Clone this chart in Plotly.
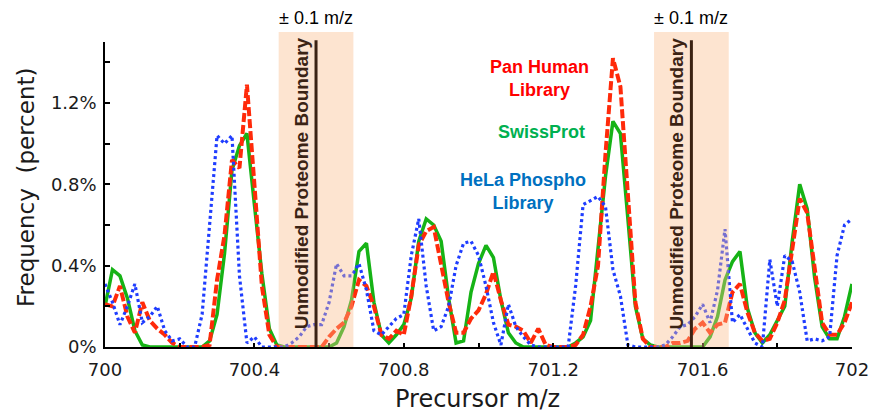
import plotly.graph_objects as go

# ---------------- data ----------------
mz = [700.00, 700.02, 700.04, 700.06, 700.08, 700.10, 700.12, 700.14, 700.16, 700.18,
      700.20, 700.22, 700.24, 700.26, 700.28, 700.30, 700.32, 700.34, 700.36, 700.38,
      700.40, 700.42, 700.44, 700.46, 700.48, 700.50, 700.52, 700.54, 700.56, 700.58,
      700.60, 700.62, 700.64, 700.66, 700.68, 700.70, 700.72, 700.74, 700.76, 700.78,
      700.80, 700.82, 700.84, 700.86, 700.88, 700.90, 700.92, 700.94, 700.96, 700.98,
      701.00, 701.02, 701.04, 701.06, 701.08, 701.10, 701.12, 701.14, 701.16, 701.18,
      701.20, 701.22, 701.24, 701.26, 701.28, 701.30, 701.32, 701.34, 701.36, 701.38,
      701.40, 701.42, 701.44, 701.46, 701.48, 701.50, 701.52, 701.54, 701.56, 701.58,
      701.60, 701.62, 701.64, 701.66, 701.68, 701.70, 701.72, 701.74, 701.76, 701.78,
      701.80, 701.82, 701.84, 701.86, 701.88, 701.90, 701.92, 701.94, 701.96, 701.98,
      702.00]

swissprot = [0.20, 0.38, 0.35, 0.24, 0.08, 0.01, 0.00, 0.00, 0.00, 0.00,
             0.00, 0.00, 0.00, 0.00, 0.03, 0.16, 0.46, 0.87, 0.99, 1.05,
             0.70, 0.36, 0.09, 0.01, 0.00, 0.00, 0.00, 0.00, 0.00, 0.00,
             0.00, 0.02, 0.10, 0.23, 0.47, 0.51, 0.22, 0.06, 0.02, 0.06,
             0.11, 0.24, 0.52, 0.63, 0.60, 0.52, 0.24, 0.02, 0.03, 0.27,
             0.41, 0.50, 0.44, 0.23, 0.07, 0.02, 0.00, 0.00, 0.00, 0.00,
             0.00, 0.00, 0.00, 0.02, 0.05, 0.13, 0.47, 0.84, 1.11, 1.05,
             0.63, 0.20, 0.04, 0.01, 0.00, 0.00, 0.00, 0.00, 0.00, 0.00,
             0.00, 0.05, 0.15, 0.33, 0.42, 0.47, 0.19, 0.07, 0.02, 0.06,
             0.13, 0.20, 0.52, 0.80, 0.68, 0.34, 0.10, 0.04, 0.04, 0.15,
             0.31]

pan_human = [0.21, 0.20, 0.30, 0.15, 0.07, 0.22, 0.13, 0.09, 0.06, 0.02,
             0.00, 0.00, 0.00, 0.00, 0.01, 0.33, 0.55, 0.92, 0.88, 1.29,
             0.80, 0.30, 0.06, 0.00, 0.00, 0.00, 0.00, 0.00, 0.00, 0.00,
             0.05, 0.09, 0.12, 0.20, 0.33, 0.30, 0.20, 0.06, 0.04, 0.08,
             0.06, 0.25, 0.50, 0.57, 0.59, 0.40, 0.22, 0.07, 0.07, 0.14,
             0.18, 0.26, 0.37, 0.23, 0.11, 0.10, 0.08, 0.02, 0.09, 0.01,
             0.00, 0.00, 0.00, 0.01, 0.06, 0.20, 0.40, 0.95, 1.42, 1.28,
             0.72, 0.22, 0.04, 0.00, 0.00, 0.00, 0.02, 0.02, 0.03, 0.09,
             0.12, 0.07, 0.11, 0.12, 0.27, 0.31, 0.17, 0.07, 0.03, 0.04,
             0.12, 0.23, 0.48, 0.73, 0.66, 0.38, 0.12, 0.06, 0.06, 0.12,
             0.22]

hela_phospho = [0.31, 0.22, 0.11, 0.20, 0.31, 0.12, 0.15, 0.20, 0.08, 0.03,
                0.04, 0.00, 0.00, 0.16, 0.60, 1.04, 1.00, 1.04, 0.35, 0.02,
                0.05, 0.00, 0.00, 0.00, 0.00, 0.02, 0.05, 0.10, 0.11, 0.11,
                0.22, 0.41, 0.35, 0.35, 0.41, 0.28, 0.08, 0.06, 0.10, 0.14,
                0.16, 0.45, 0.63, 0.30, 0.08, 0.10, 0.20, 0.40, 0.51, 0.52,
                0.45, 0.30, 0.12, 0.01, 0.21, 0.10, 0.05, 0.01, 0.00, 0.00,
                0.00, 0.00, 0.00, 0.30, 0.70, 0.72, 0.74, 0.69, 0.38, 0.25,
                0.01, 0.00, 0.00, 0.00, 0.00, 0.01, 0.05, 0.10, 0.11, 0.15,
                0.21, 0.12, 0.28, 0.58, 0.12, 0.16, 0.09, 0.02, 0.00, 0.43,
                0.20, 0.45, 0.42, 0.27, 0.03, 0.04, 0.03, 0.05, 0.45, 0.60,
                0.63]

boundaries = [700.565, 701.570]
window = 0.1
window_label = "± 0.1 m/z"
boundary_label = "Unmodified Proteome Boundary"
series_labels = ["Pan Human<br>Library", "SwissProt", "HeLa Phospho<br>Library"]

# ---------------- figure ----------------
AX_FONT = "DejaVu Sans, Verdana, sans-serif"
TXT_FONT = "Liberation Sans, Arial, sans-serif"

fig = go.Figure()
fig.add_trace(go.Scatter(x=mz, y=swissprot, mode="lines", name="SwissProt",
                         line=dict(color="#16b316", width=3.5)))
fig.add_trace(go.Scatter(x=mz, y=pan_human, mode="lines", name="Pan Human Library",
                         line=dict(color="#ff2a0a", width=4, dash="9px,3px")))
fig.add_trace(go.Scatter(x=mz, y=hela_phospho, mode="lines", name="HeLa Phospho Library",
                         line=dict(color="#1f3dff", width=3.2, dash="3px,3px")))

shapes = []
annotations = []
for b in boundaries:
    shapes.append(dict(type="rect", xref="x", yref="paper", x0=b - window, x1=b + window,
                       y0=0, y1=1.033, fillcolor="rgb(250,187,137)", opacity=0.4,
                       line=dict(width=0), layer="above"))
    shapes.append(dict(type="line", xref="x", yref="paper", x0=b, x1=b, y0=0, y1=1.006,
                       line=dict(color="#3b2213", width=3), layer="above"))
    annotations.append(dict(x=b, y=1.078, xref="x", yref="paper", text=window_label,
                            showarrow=False, xanchor="center", yanchor="middle",
                            font=dict(family=TXT_FONT, size=18, color="black")))
    annotations.append(dict(x=b, y=0.537, xref="x", yref="paper", xshift=-15,
                            text="<b>" + boundary_label + "</b>", textangle=-90,
                            showarrow=False, xanchor="center", yanchor="middle",
                            font=dict(family=TXT_FONT, size=19, color="#3b2314")))

label_pos = [(701.162, 0.881, "#ff0000"), (701.170, 0.706, "#00b050"), (701.120, 0.511, "#0070c0")]
for (lx, ly, col), txt in zip(label_pos, series_labels):
    annotations.append(dict(x=lx, y=ly, xref="x", yref="paper", text="<b>" + txt + "</b>",
                            showarrow=False, xanchor="center", yanchor="middle", align="center",
                            font=dict(family=TXT_FONT, size=18, color=col)))

# axis titles
annotations.append(dict(x=0.498, y=-0.172, xref="paper", yref="paper", text="Precursor m/z",
                        showarrow=False, xanchor="center", yanchor="middle",
                        font=dict(family=AX_FONT, size=24, color="#1a1a1a")))
annotations.append(dict(x=-0.106, y=0.524, xref="paper", yref="paper",
                        text="Frequency\u00a0 (percent)", textangle=-90,
                        showarrow=False, xanchor="center", yanchor="middle",
                        font=dict(family=AX_FONT, size=23, color="#1a1a1a")))

fig.update_layout(
    width=871, height=415,
    margin=dict(l=105, r=19, t=42, b=68, autoexpand=False),
    paper_bgcolor="white", plot_bgcolor="white",
    showlegend=False,
    shapes=shapes, annotations=annotations,
    xaxis=dict(range=[700, 702], showgrid=False, zeroline=False, automargin=False,
               showline=True, linecolor="black", linewidth=1.5,
               tick0=700, dtick=0.4, ticks="inside", ticklen=4, tickwidth=1.5, tickcolor="black",
               ticklabelstandoff=6,
               minor=dict(tick0=700, dtick=0.2, ticks="inside", ticklen=4, tickwidth=1.5,
                          tickcolor="black", showgrid=False),
               tickfont=dict(family=AX_FONT, size=18, color="#1a1a1a")),
    xaxis2=dict(range=[700, 702], overlaying="x", anchor="y", side="bottom", automargin=False,
                showgrid=False, zeroline=False, showline=False, showticklabels=False,
                tick0=700, dtick=0.2, ticks="outside", ticklen=2, tickwidth=1.5,
                tickcolor="black"),
    yaxis=dict(range=[0, 1.5], showgrid=False, zeroline=False, automargin=False,
               showline=True, linecolor="black", linewidth=1.5,
               tick0=0, dtick=0.4, ticksuffix="%", ticks="inside", ticklen=5, tickwidth=1.5,
               tickcolor="black", ticklabelstandoff=3,
               minor=dict(tick0=0, dtick=0.2, ticks="inside", ticklen=5, tickwidth=1.5,
                          tickcolor="black", showgrid=False),
               tickfont=dict(family=AX_FONT, size=18, color="#1a1a1a")),
)

fig.write_html("out.html")
